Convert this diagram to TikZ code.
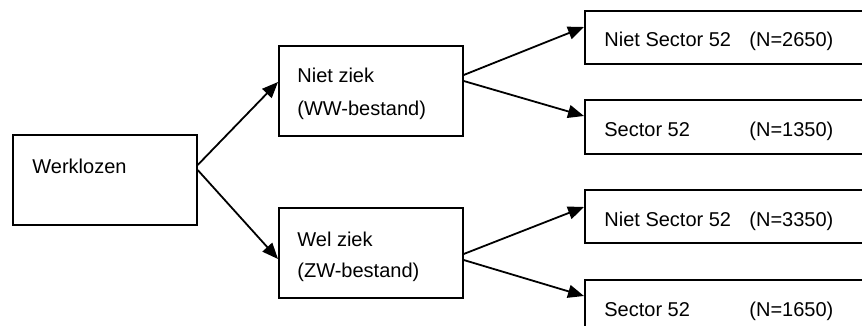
\documentclass[tikz,border=0pt]{standalone}
\usepackage{fontspec}
\setmainfont{Liberation Sans}
\usetikzlibrary{arrows.meta,calc}

\tikzset{
  box/.style={draw=black, line width=0.85pt, inner sep=0pt, anchor=north west},
  lbl/.style={anchor=base west, inner sep=0pt, font=\fontsize{10}{12}\selectfont},
  link/.style={line width=0.9pt, -{Triangle[length=8pt,width=6.5pt]}}
}

\begin{document}
\begin{tikzpicture}[x=0.5pt, y=-0.5pt]
  \useasboundingbox (0,0) rectangle (862,326);
  \clip (0,0) rectangle (862,326);

  % boxes
  \node[box, minimum width=92pt, minimum height=45pt] (W)  at (12,134) {};
  \node[box, minimum width=92pt, minimum height=45pt] (NZ) at (278,45) {};
  \node[box, minimum width=92pt, minimum height=45pt] (WZ) at (278,207) {};
  \node[box, minimum width=160pt, minimum height=26.5pt] (R1) at (584,10) {};
  \node[box, minimum width=160pt, minimum height=27pt]   (R2) at (584,99) {};
  \node[box, minimum width=160pt, minimum height=26.5pt] (R3) at (584,189) {};
  \node[box, minimum width=160pt, minimum height=27pt]   (R4) at (584,279) {};

  % labels
  \node[lbl] (tW)   at (32,173)  {Werklozen};
  \node[lbl] (tNZ1) at (297,83)  {Niet ziek};
  \node[lbl] (tNZ2) at (297,116) {(WW-bestand)};
  \node[lbl] (tWZ1) at (297,246) {Wel ziek};
  \node[lbl] (tWZ2) at (297,277) {(ZW-bestand)};
  \node[lbl] (tR1a) at (604,47)  {Niet Sector 52};
  \node[lbl] (tR1b) at (749,47)  {(N=2650)};
  \node[lbl] (tR2a) at (604,137) {Sector 52};
  \node[lbl] (tR2b) at (749,137) {(N=1350)};
  \node[lbl] (tR3a) at (604,227) {Niet Sector 52};
  \node[lbl] (tR3b) at (749,227) {(N=3350)};
  \node[lbl] (tR4a) at (604,316) {Sector 52};
  \node[lbl] (tR4b) at (749,316) {(N=1650)};

  % connectors
  \draw[link] ($(W.north east)+(0,31)$)  -- ($(NZ.north west)+(0,37)$);
  \draw[link] ($(W.north east)+(0,36)$)  -- ($(WZ.north west)+(0,52)$);
  \draw[link] ($(NZ.north east)+(0,30)$) -- ($(R1.north west)+(0,17)$);
  \draw[link] ($(NZ.north east)+(0,36)$) -- ($(R2.north west)+(0,17)$);
  \draw[link] ($(WZ.north east)+(0,47)$) -- ($(R3.north west)+(0,18)$);
  \draw[link] ($(WZ.north east)+(0,53)$) -- ($(R4.north west)+(0,17)$);
\end{tikzpicture}
\end{document}
